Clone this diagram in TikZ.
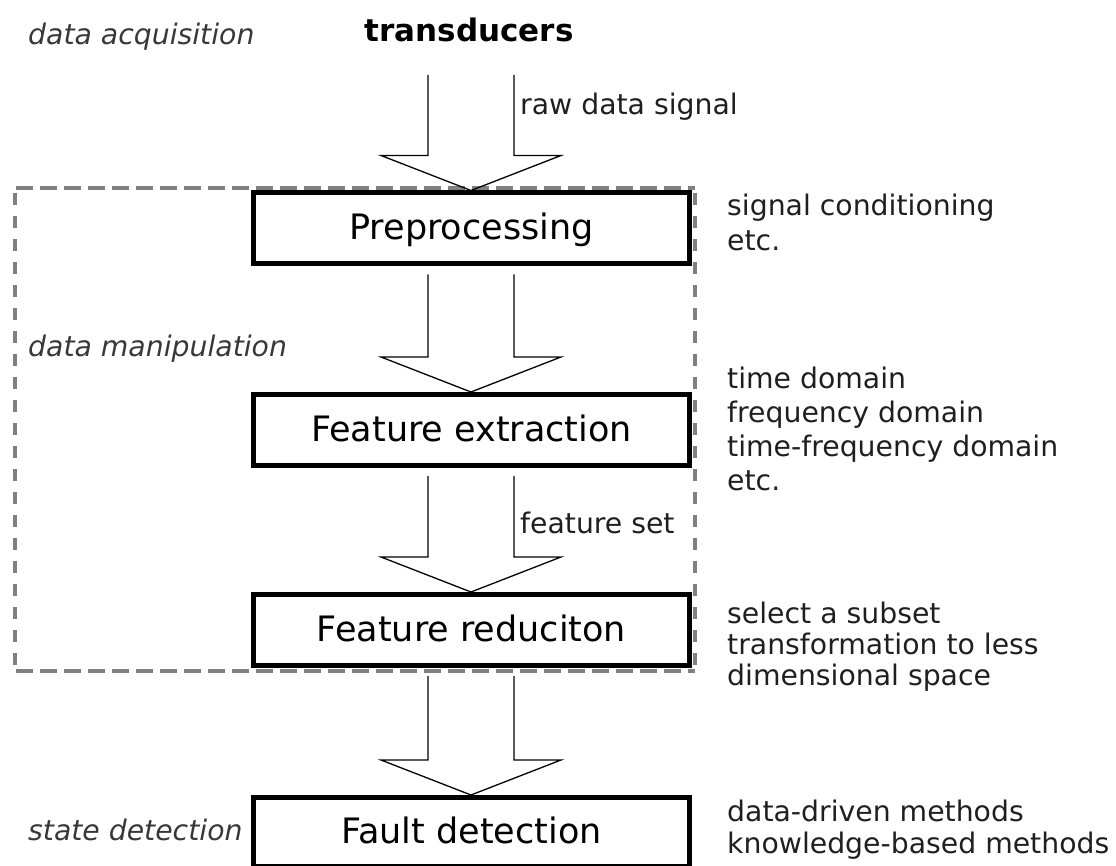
\documentclass[tikz,border=0pt]{standalone}
\usepackage{fontspec}
\setmainfont{DejaVu Sans}
\usetikzlibrary{calc}

% hollow block arrow: shaft starts at #1, tip touches #2
\newcommand\hollowarrow[2]{%
  \draw[arrowline] ($(#1)+(-43,0)$) -- ($(#2)+(-43,-35)$) -- ($(#2)+(-90,-35)$)
    -- (#2) -- ($(#2)+(90,-35)$) -- ($(#2)+(43,-35)$) -- ($(#1)+(43,0)$);}

\begin{document}
\begin{tikzpicture}[x=1pt,y=-1pt,
  stage/.style={draw=black, line width=5pt, fill=white, minimum width=436pt,
    minimum height=71pt, inner sep=0pt, text height=27pt, text depth=5pt,
    font=\fontsize{35}{40}\selectfont},
  arrowline/.style={line width=1.3pt, line join=miter},
  note/.style={anchor=base west, inner sep=0pt, align=left, text=black!88,
    font=\fontsize{28.3}{#1}\selectfont},
  note/.default=33,
  phase/.style={anchor=base west, inner sep=0pt, font=\fontsize{28.3}{33}\selectfont\itshape,
    text=black!78},
  hgroup/.style={draw=black!50, line width=3.4pt, dash pattern=on 17pt off 7pt},
  vgroup/.style={draw=black!50, line width=3.4pt, dash pattern=on 12pt off 11pt}]

\useasboundingbox (0,0) rectangle (1116,866);

% dashed frame round the data manipulation stages
\draw[hgroup] (16,188) -- (695,188);
\draw[hgroup] (16,671) -- (695,671);
\draw[vgroup] (15,193) -- (15,671);
\draw[vgroup] (695,193) -- (695,671);

% processing stages
\node[anchor=base, inner sep=0pt, font=\fontsize{31}{36}\selectfont\bfseries] (trans) at (469,42) {transducers};
\node[stage] (pre) at (471.5,228.5) {Preprocessing};
\node[stage] (fe) at (471.5,430) {Feature extraction};
\node[stage] (fr) at (471.5,630) {Feature reduciton};
\node[stage, minimum height=69pt] (fd) at (471.5,832) {Fault detection};

% block arrows between stages
\coordinate (a0) at (471,75);
\coordinate (a1) at ($(pre.south)+(-0.5,8)$);
\coordinate (a2) at ($(fe.south)+(-0.5,8)$);
\coordinate (a3) at ($(fr.south)+(-0.5,8)$);
\hollowarrow{a0}{$(pre.north)+(-0.5,0)$}
\hollowarrow{a1}{$(fe.north)+(-0.5,0)$}
\hollowarrow{a2}{$(fr.north)+(-0.5,0)$}
\hollowarrow{a3}{$(fd.north)+(-0.5,0)$}

% arrow labels
\node[note] (raw) at (520,115) {raw data signal};
\node[note] (fset) at (520,533) {feature set};

% phase labels
\node[phase] (acq) at (28,45) {data acquisition};
\node[phase] (man) at (28,356) {data manipulation};
\node[phase] (det) at (28,840) {state detection};

% method notes (anchored at the baseline of their last line)
\node[note=35] (n1) at (727,251) {signal conditioning\\etc.};
\node[note=34] (n2) at (727,490) {time domain\\frequency domain\\time-frequency domain\\etc.};
\node[note=31] (n3) at (727,685) {select a subset\\transformation to less\\dimensional space};
\node[note=32] (n4) at (727,853) {data-driven methods\\knowledge-based methods};
\end{tikzpicture}
\end{document}
